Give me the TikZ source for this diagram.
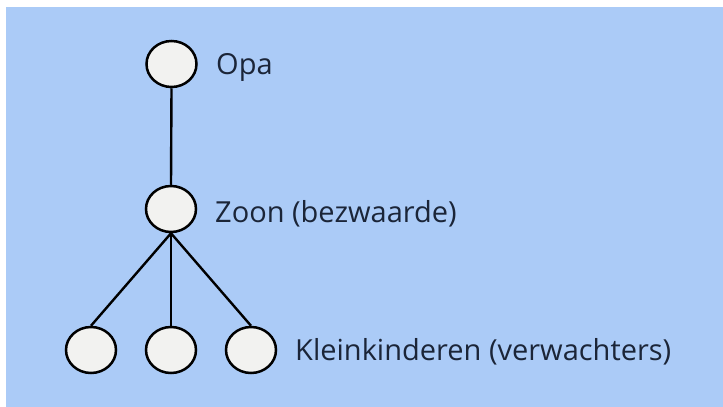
\documentclass[tikz,border=0pt]{standalone}
\usepackage{fontspec}
\setmainfont{Open Sans}
\usetikzlibrary{shapes.geometric}
\definecolor{bgblue}{RGB}{171,203,247}
\definecolor{nodefill}{RGB}{242,242,240}
\definecolor{txt}{RGB}{27,37,56}
\begin{document}
\begin{tikzpicture}[x=1pt,y=-1pt,
  person/.style={ellipse, draw=black, line width=2.5pt, fill=nodefill, minimum width=50pt, minimum height=46pt, inner sep=0pt},
  lbl/.style={anchor=west, text=txt, font=\fontsize{29}{34}\selectfont, inner sep=0pt},
  link/.style={draw=black, line width=2.4pt}]
\useasboundingbox (0,0) rectangle (723,407);
\fill[white] (0,0) rectangle (723,407);
\fill[bgblue] (6,7) rectangle (724,409);
\node[person] (opa) at (171.5,64) {};
\node[person] (zoon) at (171,209) {};
\node[person] (k1) at (91,350) {};
\node[person] (k2) at (171,350) {};
\node[person] (k3) at (251,350) {};
\node[lbl] (lopa) at (216,67) {Opa};
\node[lbl] (lzoon) at (215,214) {Zoon (bezwaarde)};
\node[lbl] (lk) at (295,352) {Kleinkinderen (verwachters)};
\draw[link] (opa.south) -- (zoon.north);
\draw[link] (zoon.south) -- (k1.north);
\draw[link] (zoon.south) -- (k2.north);
\draw[link] (zoon.south) -- (k3.north);
\end{tikzpicture}
\end{document}
